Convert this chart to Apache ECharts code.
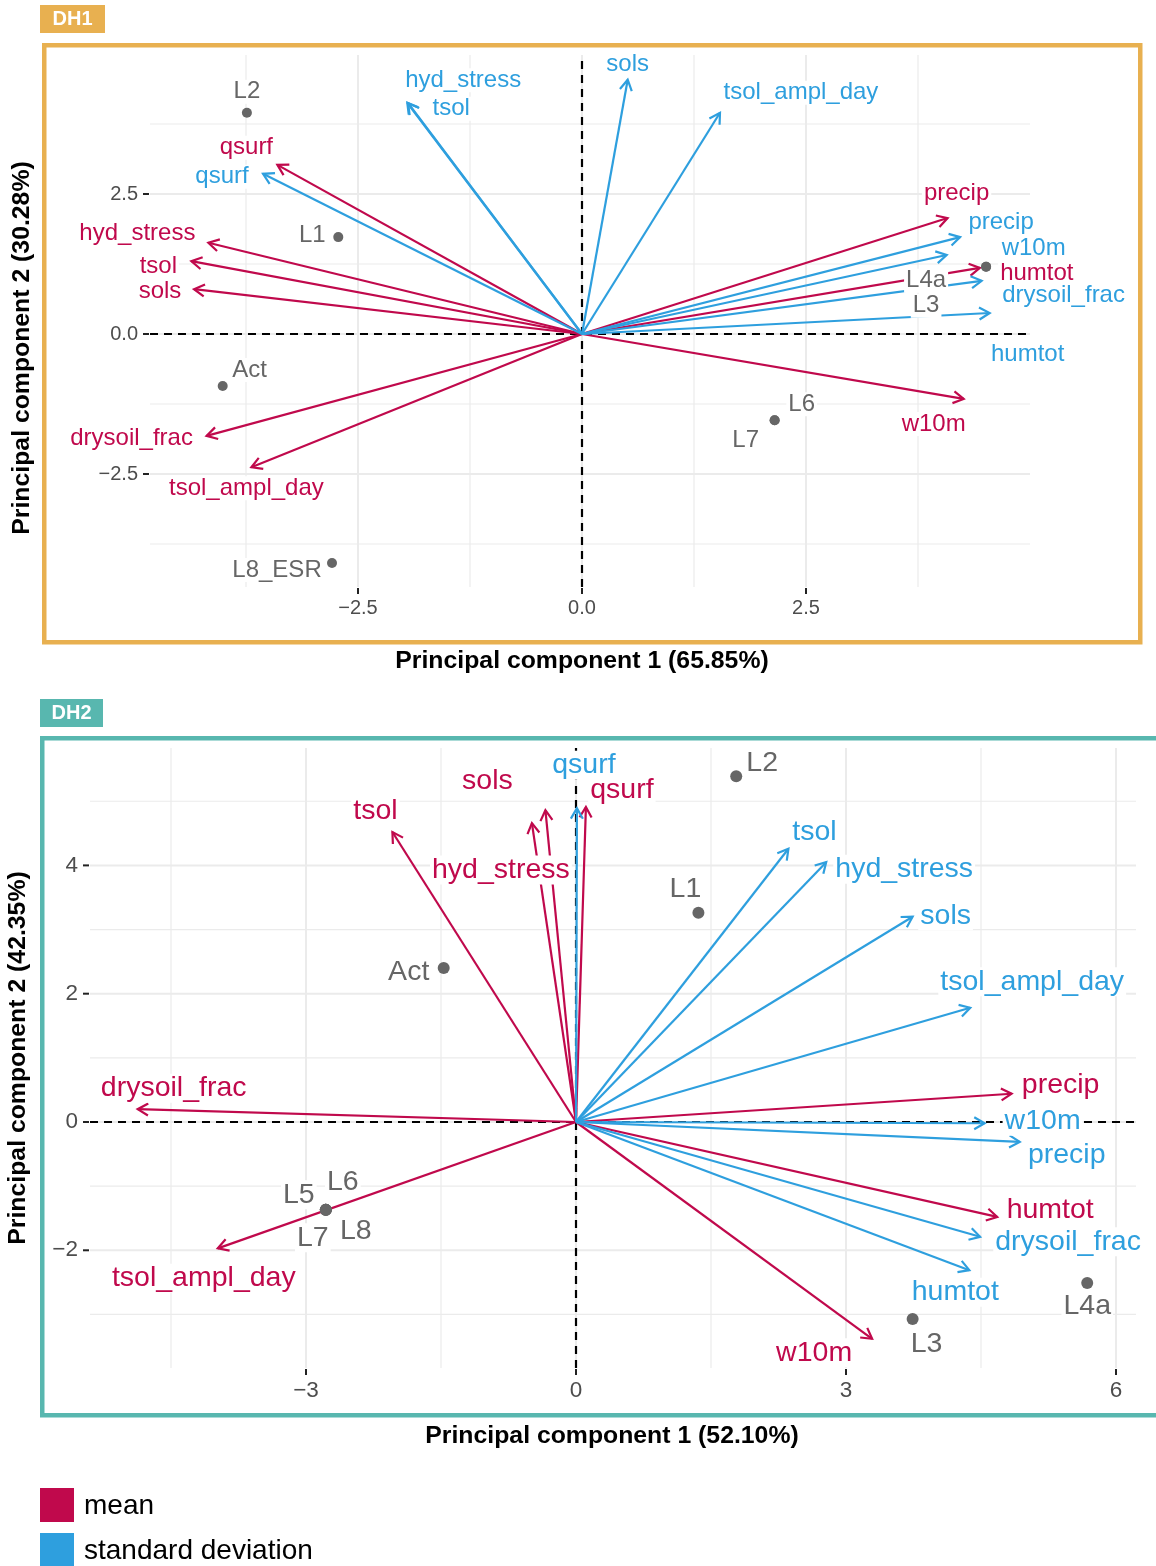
<!DOCTYPE html>
<html><head><meta charset="utf-8">
<script src="https://cdn.jsdelivr.net/npm/echarts@6/dist/echarts.min.js"></script>
<style>html,body{margin:0;padding:0;background:#fff}#c{width:1156px;height:1566px}</style>
</head><body><div id="c"></div>
<script>
// ---------------- DATA ----------------
const variables = ['qsurf','hyd_stress','tsol','sols','drysoil_frac','tsol_ampl_day','precip','humtot','w10m'];
// DH1 loadings (PC1, PC2)
const dh1MeanPC1 = [-3.40,-4.17,-4.36,-4.33,-4.19,-3.69,4.08,4.44,4.26];
const dh1MeanPC2 = [3.02,1.63,1.30,0.80,-1.82,-2.38,2.07,1.18,-1.16];
const dh1SdPC1 = [-3.56,-1.94,-1.95,0.51,4.46,1.54,4.22,4.55,4.07];
const dh1SdPC2 = [2.86,4.12,4.13,4.54,0.95,3.95,1.73,0.375,1.41];
const dh1Sites = ['L2','L1','Act','L8_ESR','L6','L7','L4a','L3'];
const dh1SitePC1 = [-3.74,-2.72,-4.01,-2.79,2.15,2.15,4.51,4.51];
const dh1SitePC2 = [3.95,1.73,-0.93,-4.09,-1.54,-1.54,1.20,1.20];
// DH2 loadings (PC1, PC2)
const dh2MeanPC1 = [0.11,-0.49,-2.04,-0.34,-4.87,-3.98,4.84,4.68,3.29];
const dh2MeanPC2 = [4.91,4.66,4.52,4.86,0.20,-1.97,0.44,-1.48,-3.38];
const dh2SdPC1 = [0.01,2.78,2.36,3.74,4.49,4.38,4.93,4.37,4.54];
const dh2SdPC2 = [4.89,4.05,4.26,3.20,-1.79,1.78,-0.31,-2.31,-0.02];
const dh2Sites = ['L2','L1','Act','L5','L6','L7','L8','L3','L4a'];
const dh2SitePC1 = [1.78,1.36,-1.47,-2.78,-2.78,-2.78,-2.78,3.74,5.68];
const dh2SitePC2 = [5.39,3.26,2.40,-1.37,-1.37,-1.37,-1.37,-3.07,-2.51];
// ticks & grid lines
const dh1XTicks = [-2.5,0,2.5];
const dh1YTicks = [-2.5,0,2.5];
const dh1XGrid = [-3.75,-2.5,-1.25,0,1.25,2.5,3.75];
const dh1YGrid = [-3.75,-2.5,-1.25,0,1.25,2.5,3.75];
const dh2XTicks = [-3,0,3,6];
const dh2YTicks = [-2,0,2,4];
const dh2XGrid = [-4.5,-3,-1.5,0,1.5,3,4.5,6];
const dh2YGrid = [-3,-2,-1,0,1,2,3,4,5];
const legendNames = ['mean','standard deviation'];

// ---------------- LAYOUT / STYLE ----------------
const FONT = '"Liberation Sans", Arial, Helvetica, sans-serif';
const C_MEAN = '#C0094C', C_SD = '#2E9FDE', C_SITE = '#666666';
const C_DH1 = '#E8B050', C_DH2 = '#58B7AF';
const dh1Range = {x:[-4.8214,5.0], y:[-4.518,4.982]};
const dh2Range = {x:[-5.4,6.222], y:[-3.835,5.83]};
// label offsets in px relative to arrow tips / points (label repel layout)
const dh1MeanOff = {qsurf:[-31,-17],hyd_stress:[-71,-9],tsol:[-33,5],sols:[-34,2],drysoil_frac:[-75,2],tsol_ampl_day:[-5,21],precip:[9,-25],humtot:[57,5],w10m:[-30,25]};
const dh1SdOff = {qsurf:[-41,3],hyd_stress:[55,-23],tsol:[44,6],sols:[0,-15],drysoil_frac:[82,15],tsol_ampl_day:[81,-20],precip:[41,-15],humtot:[38,41],w10m:[87,-7]};
const dh1SiteOff = [[0,-21],[-26,-2],[27,-16],[-55,7],[27,-16],[-29,20],[-60,14],[-60,39]];
const dh2MeanOff = {qsurf:[36,-17],hyd_stress:[-31,47],tsol:[-17,-21],sols:[-58,-29],drysoil_frac:[36,-21],tsol_ampl_day:[-14,30],precip:[49,-9],humtot:[53,-7],w10m:[-58,14]};
const dh2SdOff = {qsurf:[7,-43],hyd_stress:[78,7],tsol:[26,-17],sols:[33,-1],drysoil_frac:[88,5],tsol_ampl_day:[62,-26],precip:[47,13],humtot:[-14,22],w10m:[58,-2]};
const dh2SiteOff = [[26,-13],[-13,-24],[-35,4],[-27,-15],[17,-28],[-13,28],[30,21],[14,25],[0,23]];

const zip = (a,b) => a.map((v,i)=>[v,b[i]]);

function gridLineSeries(idx, xs, ys, range, majorX, majorY){
  const data = xs.map(v=>[v,0,0]).concat(ys.map(v=>[0,v,1]));
  return {type:'custom', xAxisIndex:idx, yAxisIndex:idx, z:1, silent:true, clip:false,
    data, renderItem(params, api){
      const horiz = api.value(2) === 1;
      let p1,p2,major;
      if(!horiz){ const v=api.value(0); p1=api.coord([v,range.y[0]]); p2=api.coord([v,range.y[1]]); major=majorX.includes(v); }
      else { const v=api.value(1); p1=api.coord([range.x[0],v]); p2=api.coord([range.x[1],v]); major=majorY.includes(v); }
      return {type:'line', shape:{x1:p1[0],y1:p1[1],x2:p2[0],y2:p2[1]}, style:{stroke:'#EBEBEB', lineWidth: major?2:1.2}};
    }};
}
// axis tick marks (outside the panel, at major positions)
function tickSeries(idx, xt, yt, range){
  const data = xt.map(v=>[v,0,0]).concat(yt.map(v=>[0,v,1]));
  return {type:'custom', xAxisIndex:idx, yAxisIndex:idx, z:2, silent:true, clip:false,
    data, renderItem(params, api){
      let p;
      if(api.value(2)===0){ p=api.coord([api.value(0), range.y[0]]);
        return {type:'line', shape:{x1:p[0],y1:p[1]+1,x2:p[0],y2:p[1]+7}, style:{stroke:'#222', lineWidth:2}}; }
      p=api.coord([range.x[0], api.value(1)]);
      return {type:'line', shape:{x1:p[0]-1,y1:p[1],x2:p[0]-7,y2:p[1]}, style:{stroke:'#222', lineWidth:2}};
    }};
}
function zeroLineSeries(idx, range){
  return {type:'custom', xAxisIndex:idx, yAxisIndex:idx, z:2, silent:true, clip:false,
    data:[[0,0,0],[0,0,1]], renderItem(params, api){
      let p1,p2;
      if(api.value(2)===0){ p1=api.coord([0,range.y[0]]); p2=api.coord([0,range.y[1]]); }
      else { p1=api.coord([range.x[0],0]); p2=api.coord([range.x[1],0]); }
      return {type:'line', shape:{x1:p1[0],y1:p1[1],x2:p2[0],y2:p2[1]}, style:{stroke:'#000', lineWidth:2.2, lineDash:[8,6]}};
    }};
}
function arrowSeries(idx, pc1, pc2, color){
  return {type:'custom', xAxisIndex:idx, yAxisIndex:idx, z:3, silent:true, clip:false,
    data: zip(pc1,pc2), renderItem(params, api){
      const o = api.coord([0,0]);
      const t = api.coord([api.value(0), api.value(1)]);
      const ang = Math.atan2(t[1]-o[1], t[0]-o[0]);
      const L = 12, a = Math.PI/6;
      const p1 = [t[0]-L*Math.cos(ang-a), t[1]-L*Math.sin(ang-a)];
      const p2 = [t[0]-L*Math.cos(ang+a), t[1]-L*Math.sin(ang+a)];
      return {type:'group', children:[
        {type:'line', shape:{x1:o[0],y1:o[1],x2:t[0],y2:t[1]}, style:{stroke:color, lineWidth:2.2}},
        {type:'polyline', shape:{points:[p1,t,p2]}, style:{stroke:color, lineWidth:2.2, fill:null}}
      ]};
    }};
}
function labelSeries(idx, pc1, pc2, names, offs, color, fs){
  return {type:'custom', xAxisIndex:idx, yAxisIndex:idx, z:4, silent:true, clip:false,
    data: zip(pc1,pc2), renderItem(params, api){
      const t = api.coord([api.value(0), api.value(1)]);
      const n = names[params.dataIndex];
      const off = Array.isArray(offs) ? offs[params.dataIndex] : offs[n];
      return {type:'text', style:{text:n, x:t[0]+off[0], y:t[1]+off[1], fill:color, fontSize:fs, fontFamily:FONT,
        align:'center', verticalAlign:'middle', backgroundColor:'#fff', padding:[0,2]}};
    }};
}
function siteSeries(idx, pc1, pc2, r){
  return {type:'custom', xAxisIndex:idx, yAxisIndex:idx, z:5, silent:true, clip:false,
    data: zip(pc1,pc2), renderItem(params, api){
      const t = api.coord([api.value(0), api.value(1)]);
      return {type:'circle', shape:{cx:t[0], cy:t[1], r}, style:{fill:C_SITE}};
    }};
}
function axisPair(idx, range, xt, yt, fmt, fs){
  const lab = {fontFamily:FONT, fontSize:fs, color:'#4D4D4D', formatter: fmt};
  const line = {show:false, onZero:false};
  return [
    {type:'value', gridIndex:idx, min:range.x[0], max:range.x[1], axisLine:line, splitLine:{show:false},
      axisTick:{show:false}, axisLabel:Object.assign({customValues:xt, margin:11}, lab)},
    {type:'value', gridIndex:idx, min:range.y[0], max:range.y[1], axisLine:line, splitLine:{show:false},
      axisTick:{show:false}, axisLabel:Object.assign({customValues:yt, margin:12}, lab)}
  ];
}
const fmt1 = v => (v<0?'\u2212':'') + Math.abs(v).toFixed(1);
const fmt0 = v => (v<0?'\u2212':'') + Math.abs(v).toFixed(0);
const a1 = axisPair(0, dh1Range, dh1XTicks, dh1YTicks, fmt1, 20);
const a2 = axisPair(1, dh2Range, dh2XTicks, dh2YTicks, fmt0, 22.5);

const chart = echarts.init(document.getElementById('c'), null, {renderer:'canvas'});
chart.setOption({
  animation:false,
  backgroundColor:'#fff',
  grid:[{left:150, top:55, width:880, height:532}, {left:90, top:748, width:1046, height:620}],
  xAxis:[a1[0], a2[0]],
  yAxis:[a1[1], a2[1]],
  series:[
    gridLineSeries(0, dh1XGrid, dh1YGrid, dh1Range, dh1XTicks, dh1YTicks),
    tickSeries(0, dh1XTicks, dh1YTicks, dh1Range),
    zeroLineSeries(0, dh1Range),
    arrowSeries(0, dh1MeanPC1, dh1MeanPC2, C_MEAN),
    arrowSeries(0, dh1SdPC1, dh1SdPC2, C_SD),
    labelSeries(0, dh1MeanPC1, dh1MeanPC2, variables, dh1MeanOff, C_MEAN, 24),
    labelSeries(0, dh1SdPC1, dh1SdPC2, variables, dh1SdOff, C_SD, 24),
    siteSeries(0, dh1SitePC1, dh1SitePC2, 5),
    labelSeries(0, dh1SitePC1, dh1SitePC2, dh1Sites, dh1SiteOff, C_SITE, 24),

    gridLineSeries(1, dh2XGrid, dh2YGrid, dh2Range, dh2XTicks, dh2YTicks),
    tickSeries(1, dh2XTicks, dh2YTicks, dh2Range),
    zeroLineSeries(1, dh2Range),
    arrowSeries(1, dh2MeanPC1, dh2MeanPC2, C_MEAN),
    arrowSeries(1, dh2SdPC1, dh2SdPC2, C_SD),
    labelSeries(1, dh2MeanPC1, dh2MeanPC2, variables, dh2MeanOff, C_MEAN, 28.5),
    labelSeries(1, dh2SdPC1, dh2SdPC2, variables, dh2SdOff, C_SD, 28.5),
    siteSeries(1, dh2SitePC1, dh2SitePC2, 6),
    labelSeries(1, dh2SitePC1, dh2SitePC2, dh2Sites, dh2SiteOff, C_SITE, 28.5)
  ],
  graphic:[
    {type:'rect', silent:true, z:0, shape:{x:44.25, y:45.25, width:1096, height:597}, style:{fill:null, stroke:C_DH1, lineWidth:4.5}},
    {type:'rect', silent:true, shape:{x:40, y:5, width:65, height:28}, style:{fill:C_DH1}},
    {type:'text', silent:true, style:{text:'DH1', x:72.5, y:19.5, align:'center', verticalAlign:'middle', fill:'#fff', fontFamily:FONT, fontWeight:'bold', fontSize:20}},
    {type:'text', silent:true, style:{text:'Principal component 1 (65.85%)', x:582, y:661, align:'center', verticalAlign:'middle', fill:'#000', fontFamily:FONT, fontWeight:'bold', fontSize:24.8}},
    {type:'text', silent:true, rotation:Math.PI/2, x:22, y:348, style:{text:'Principal component 2 (30.28%)', x:0, y:0, align:'center', verticalAlign:'middle', fill:'#000', fontFamily:FONT, fontWeight:'bold', fontSize:24.8}},

    {type:'rect', silent:true, z:0, shape:{x:42.25, y:738.25, width:1140, height:677}, style:{fill:null, stroke:C_DH2, lineWidth:4.5}},
    {type:'rect', silent:true, shape:{x:40, y:699, width:63, height:28}, style:{fill:C_DH2}},
    {type:'text', silent:true, style:{text:'DH2', x:71.5, y:713.5, align:'center', verticalAlign:'middle', fill:'#fff', fontFamily:FONT, fontWeight:'bold', fontSize:20}},
    {type:'text', silent:true, style:{text:'Principal component 1 (52.10%)', x:612, y:1436, align:'center', verticalAlign:'middle', fill:'#000', fontFamily:FONT, fontWeight:'bold', fontSize:24.8}},
    {type:'text', silent:true, rotation:Math.PI/2, x:18, y:1058, style:{text:'Principal component 2 (42.35%)', x:0, y:0, align:'center', verticalAlign:'middle', fill:'#000', fontFamily:FONT, fontWeight:'bold', fontSize:24.8}},

    {type:'rect', silent:true, shape:{x:40, y:1488, width:34, height:34}, style:{fill:C_MEAN}},
    {type:'text', silent:true, style:{text:legendNames[0], x:84, y:1506, align:'left', verticalAlign:'middle', fill:'#000', fontFamily:FONT, fontSize:28}},
    {type:'rect', silent:true, shape:{x:40, y:1533, width:34, height:34}, style:{fill:C_SD}},
    {type:'text', silent:true, style:{text:legendNames[1], x:84, y:1551, align:'left', verticalAlign:'middle', fill:'#000', fontFamily:FONT, fontSize:28}}
  ]
});
</script></body></html>
